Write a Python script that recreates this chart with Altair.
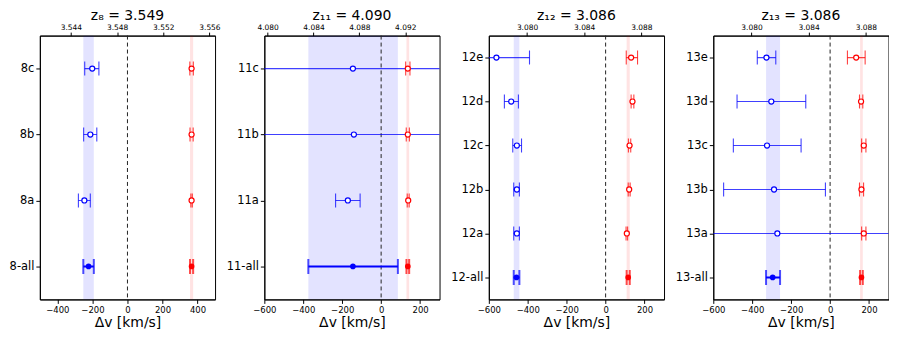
import altair as alt
import pandas as pd

C_KMS = 299792.458

# ---------------- data ----------------
rows_8 = ["8c", "8b", "8a", "8-all"]
blue_v_8 = [-201, -212, -246, -222]
blue_lo_8 = [-244, -250, -280, -252]
blue_hi_8 = [-163, -175, -212, -192]
red_v_8 = [366, 366, 366, 366]
red_lo_8 = [356, 357, 362, 357]
red_hi_8 = [376, 375, 370, 375]

rows_11 = ["11c", "11b", "11a", "11-all"]
blue_v_11 = [-145, -140, -171, -145]
blue_lo_11 = [-2000, -2000, -234, -374]
blue_hi_11 = [2000, 2000, -108, 86]
red_v_11 = [137, 137, 139, 137]
red_lo_11 = [126, 129, 134, 130]
red_hi_11 = [148, 145, 144, 144]

rows_12 = ["12e", "12d", "12c", "12b", "12a", "12-all"]
blue_v_12 = [-561, -485, -456, -456, -456, -458]
blue_lo_12 = [-700, -520, -477, -472, -472, -472]
blue_hi_12 = [-391, -448, -432, -443, -443, -443]
red_v_12 = [131, 138, 123, 121, 109, 116]
red_lo_12 = [106, 131, 117, 116, 105, 108]
red_hi_12 = [164, 145, 129, 126, 113, 124]

rows_13 = ["13e", "13d", "13c", "13b", "13a", "13-all"]
blue_v_13 = [-327, -302, -324, -288, -271, -295]
blue_lo_13 = [-374, -478, -497, -547, -2000, -329]
blue_hi_13 = [-279, -125, -149, -24, 2000, -257]
red_v_13 = [134, 159, 173, 161, 173, 161]
red_lo_13 = [89, 151, 162, 151, 162, 154]
red_hi_13 = [180, 168, 184, 172, 184, 168]

z_sys = [3.5489, 4.0899, 3.0855, 3.0855]
titles = ["z₈ = 3.549", "z₁₁ = 4.090", "z₁₂ = 3.086", "z₁₃ = 3.086"]
x_domains = [[-500, 500], [-600, 300], [-600, 300], [-600, 300]]
x_ticks = [[-400, -200, 0, 200, 400], [-600, -400, -200, 0, 200],
           [-600, -400, -200, 0, 200], [-600, -400, -200, 0, 200]]
z_ticks = [[3.544, 3.548, 3.552, 3.556], [4.080, 4.084, 4.088, 4.092],
           [3.080, 3.084, 3.088], [3.080, 3.084, 3.088]]

W = 176
H = 265
FONT = "DejaVu Sans"

color_scale = alt.Scale(domain=["blue", "red"], range=["blue", "red"])


def panel(rows, bv, blo, bhi, rv, rlo, rhi, zs, title, xdom, xt, zt):
    recs = []
    for i, r in enumerate(rows):
        comb = r.endswith("all")
        recs.append(dict(row=r, series="blue", v=bv[i], lo=blo[i], hi=bhi[i], comb=comb))
        recs.append(dict(row=r, series="red", v=rv[i], lo=rlo[i], hi=rhi[i], comb=comb))
    df = pd.DataFrame(recs)
    ind = df[~df["comb"]]
    allr = df[df["comb"]]

    xscale = alt.Scale(domain=xdom, nice=False, zero=False)
    xaxis = alt.Axis(values=xt, title="Δv [km/s]", titleFontSize=14, titleFont=FONT,
                     titleFontWeight="normal", labelFontSize=8.5, tickSize=4,
                     labelPadding=2, titlePadding=2, labelFlush=False)
    yenc = alt.Y("row:N", scale=alt.Scale(type="point", domain=rows, padding=0.5),
                 axis=alt.Axis(title=None, labelFontSize=11.5, tickSize=4, labelPadding=2))
    col = alt.Color("series:N", scale=color_scale, legend=None)

    def X(f):
        return alt.X(f, type="quantitative", scale=xscale, axis=xaxis)

    bands = alt.Chart(allr).mark_rect(opacity=0.11, clip=True).encode(
        x=X("lo"), x2="hi", color=col,
        y=alt.value(0), y2=alt.value(H))
    zero = alt.Chart(pd.DataFrame({"v": [0]})).mark_rule(
        color="#222222", strokeDash=[4, 3], strokeWidth=1).encode(x=X("v"))

    err_i = alt.Chart(ind).mark_rule(clip=True, strokeWidth=1.1, opacity=0.75).encode(
        x=X("lo"), x2="hi", y=yenc, color=col)
    cap_lo_i = alt.Chart(ind).mark_tick(clip=True, orient="vertical", size=14,
                                        thickness=1.1, opacity=0.75).encode(
        x=X("lo"), y=yenc, color=col)
    cap_hi_i = alt.Chart(ind).mark_tick(clip=True, orient="vertical", size=14,
                                        thickness=1.1, opacity=0.75).encode(
        x=X("hi"), y=yenc, color=col)
    pt_i = alt.Chart(ind).mark_point(shape="circle", filled=True, fill="white",
                                     strokeWidth=1.2, size=26, opacity=1).encode(
        x=X("v"), y=yenc, stroke=alt.Stroke("series:N", scale=color_scale, legend=None))

    err_a = alt.Chart(allr).mark_rule(clip=True, strokeWidth=2).encode(
        x=X("lo"), x2="hi", y=yenc, color=col)
    cap_lo_a = alt.Chart(allr).mark_tick(clip=True, orient="vertical", size=15,
                                         thickness=2).encode(
        x=X("lo"), y=yenc, color=col)
    cap_hi_a = alt.Chart(allr).mark_tick(clip=True, orient="vertical", size=15,
                                         thickness=2).encode(
        x=X("hi"), y=yenc, color=col)
    pt_a = alt.Chart(allr).mark_circle(size=32, opacity=1).encode(
        x=X("v"), y=yenc, color=col)

    bottom = alt.layer(bands, zero, err_i, cap_lo_i, cap_hi_i, pt_i,
                       err_a, cap_lo_a, cap_hi_a, pt_a)

    zmin = zs + xdom[0] * (1 + zs) / C_KMS
    zmax = zs + xdom[1] * (1 + zs) / C_KMS
    top = alt.Chart(pd.DataFrame({"z": zt})).mark_point(opacity=0).encode(
        x=alt.X("z:Q", scale=alt.Scale(domain=[zmin, zmax], nice=False, zero=False),
                axis=alt.Axis(orient="top", values=zt, format=".3f", title=None,
                              labelFontSize=7.5, tickSize=3.5, labelPadding=1,
                              labelFlush=False)))

    return alt.layer(bottom, top).resolve_scale(x="independent").properties(
        width=W, height=H,
        title=alt.Title(title, fontSize=14, font=FONT, fontWeight="normal", offset=0))


p1 = panel(rows_8, blue_v_8, blue_lo_8, blue_hi_8, red_v_8, red_lo_8, red_hi_8,
           z_sys[0], titles[0], x_domains[0], x_ticks[0], z_ticks[0])
p2 = panel(rows_11, blue_v_11, blue_lo_11, blue_hi_11, red_v_11, red_lo_11, red_hi_11,
           z_sys[1], titles[1], x_domains[1], x_ticks[1], z_ticks[1])
p3 = panel(rows_12, blue_v_12, blue_lo_12, blue_hi_12, red_v_12, red_lo_12, red_hi_12,
           z_sys[2], titles[2], x_domains[2], x_ticks[2], z_ticks[2])
p4 = panel(rows_13, blue_v_13, blue_lo_13, blue_hi_13, red_v_13, red_lo_13, red_hi_13,
           z_sys[3], titles[3], x_domains[3], x_ticks[3], z_ticks[3])

chart = alt.hconcat(p1, p2, p3, p4, spacing=49.5, bounds="flush").resolve_scale(
    x="independent", y="independent"
).properties(
    padding={"left": 0, "top": 0, "right": 0, "bottom": 0}
).configure_axis(
    grid=False, domainColor="black", tickColor="black", labelColor="black",
    titleColor="black", labelFont=FONT, titleFont=FONT, domainWidth=1
).configure_view(
    stroke="black", strokeWidth=1
).configure_title(color="black")

chart.save("out.html", embed_options={"renderer": "svg", "actions": False})
